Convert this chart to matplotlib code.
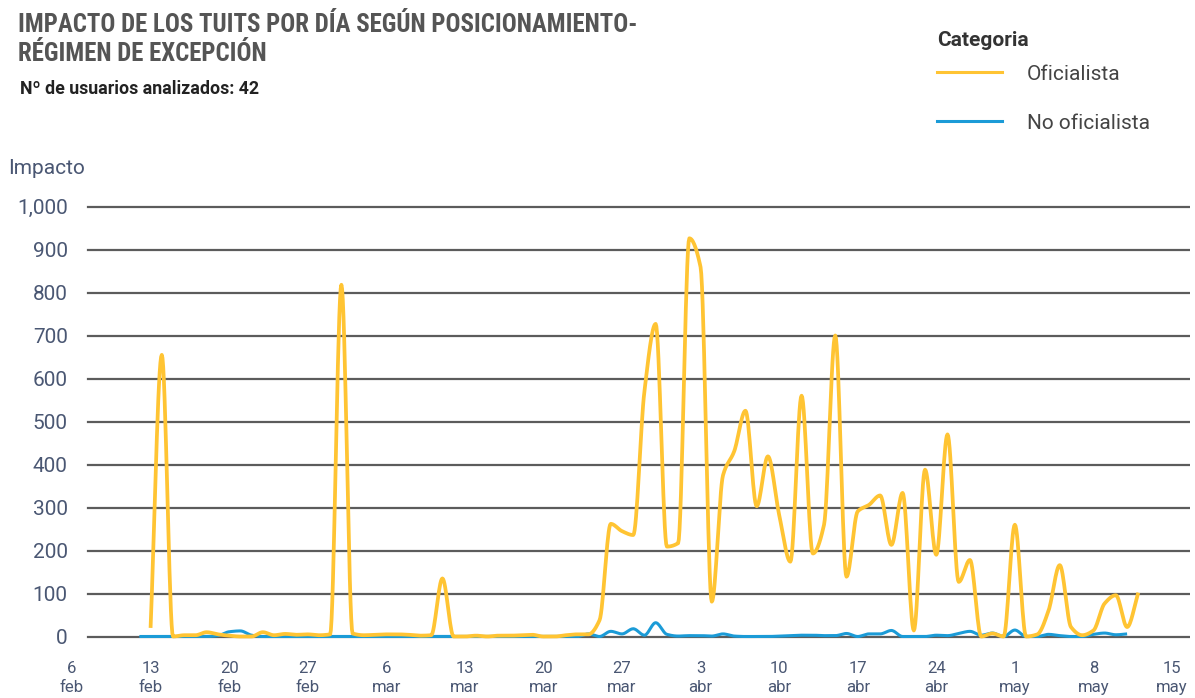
import numpy as np
import pandas as pd
import matplotlib
matplotlib.use("Agg")
import matplotlib.pyplot as plt
import matplotlib.dates as mdates
from matplotlib.lines import Line2D

# ---------------- data ----------------
oficialista_start = "2022-02-13"
oficialista = [20, 655, 0, 3, 3, 10, 5, 2, 0, 0, 10, 3, 6, 4, 5, 3, 5, 818, 7, 3,
               4, 5, 5, 4, 2, 3, 135, 0, 0, 2, 0, 2, 2, 3, 4, 0, 0, 3, 5, 5,
               38, 262, 245, 236, 571, 727, 209, 217, 926, 859, 81, 375, 431, 525, 303, 419, 283, 174, 560, 193,
               260, 700, 139, 291, 306, 328, 213, 334, 14, 388, 190, 470, 127, 178, 0, 7, 0, 260, 0, 5,
               60, 166, 22, 3, 14, 77, 96, 22, 102]
no_oficialista_start = "2022-02-12"
no_oficialista = [0, 0, 0, 0, 0, 0, 0, 2, 11, 13, 3, 0] + [0] * 28 + \
                 [6, 0, 12, 6, 18, 3, 32, 5, 1, 2, 2, 1, 6, 1, 0, 0, 0, 1, 2, 3,
                  3, 2, 2, 7, 0, 6, 6, 14, 0, 0, 0, 3, 2, 7, 12, 3, 8, 0, 15, 0,
                  0, 5, 2, 0, 0, 5, 8, 4, 6]
tick_dates = pd.date_range("2022-02-06", "2022-05-15", freq="7D")
month_es = {2: "feb", 3: "mar", 4: "abr", 5: "may"}
y_ticks = list(range(0, 1001, 100))

series_names = ["Oficialista", "No oficialista"]
colors = ["#FFC433", "#1B9BD7"]

# ---------------- helpers ----------------
def monotone_curve(x, y, n=16):
    x = np.asarray(x, float)
    y = np.asarray(y, float)
    h = np.diff(x)
    d = np.diff(y) / h
    m = np.zeros_like(y)
    m[0], m[-1] = d[0], d[-1]
    for k in range(1, len(y) - 1):
        if d[k - 1] * d[k] <= 0:
            m[k] = 0.0
        else:
            w1 = 2 * h[k] + h[k - 1]
            w2 = h[k] + 2 * h[k - 1]
            m[k] = (w1 + w2) / (w1 / d[k - 1] + w2 / d[k])
    xs, ys = [], []
    for k in range(len(h)):
        t = np.linspace(0, 1, n, endpoint=False)
        h00 = 2 * t**3 - 3 * t**2 + 1
        h10 = t**3 - 2 * t**2 + t
        h01 = -2 * t**3 + 3 * t**2
        h11 = t**3 - t**2
        xs.append(x[k] + t * h[k])
        ys.append(h00 * y[k] + h10 * h[k] * m[k] + h01 * y[k + 1] + h11 * h[k] * m[k + 1])
    xs.append([x[-1]])
    ys.append([y[-1]])
    return np.concatenate(xs), np.concatenate(ys)

# ---------------- figure ----------------
W, H = 1195, 698
fig = plt.figure(figsize=(W / 100, H / 100), dpi=100)
plt.rcParams["font.family"] = ["Roboto", "DejaVu Sans"]

ax_l, ax_r, ax_t, ax_b = 60, 1190, 200, 648
ax = fig.add_axes([ax_l / W, 1 - ax_b / H, (ax_r - ax_l) / W, (ax_b - ax_t) / H])

base = mdates.date2num(pd.Timestamp("2022-02-06"))
px_per_day = 1100 / 98
ax.set_xlim(base - (72 - ax_l) / px_per_day, base + (ax_r - 72) / px_per_day)
px_per_unit = 0.430
zero_px = 636.5
ax.set_ylim(-(ax_b - zero_px) / px_per_unit, (zero_px - ax_t) / px_per_unit)

for s in ax.spines.values():
    s.set_visible(False)

grid_start = (88 - ax_l) / (ax_r - ax_l)
for v in y_ticks:
    ax.axhline(v, xmin=grid_start, xmax=1, color="#5c5c5c", lw=1.6, zorder=1)

def plot_series(start, values, color, lw):
    dates = pd.date_range(start, periods=len(values), freq="D")
    xn = mdates.date2num(dates)
    xs, ys = monotone_curve(xn, values)
    ax.plot(xs, ys, color=color, lw=lw, solid_capstyle="butt", zorder=3)

plot_series(no_oficialista_start, no_oficialista, colors[1], 2.2)
plot_series(oficialista_start, oficialista, colors[0], 2.7)

tick_color = "#4a5773"
ax.set_yticks(y_ticks)
ax.set_yticklabels([f"{v:,}" for v in y_ticks], fontsize=15, color=tick_color)
ax.tick_params(axis="y", length=0, pad=-5.5)
for lab in ax.get_yticklabels():
    lab.set_horizontalalignment("right")

ax.set_xticks(mdates.date2num(tick_dates))
ax.set_xticklabels([f"{d.day}\n{month_es[d.month]}" for d in tick_dates],
                   fontsize=12, color=tick_color, linespacing=1.3)
ax.tick_params(axis="x", length=0, pad=9.5)

# ---------------- texts ----------------
title_kw = dict(fontsize=17.9, fontweight="bold", color="#555555", fontstretch="condensed",
                family=["Roboto Condensed", "Roboto"])
fig.text(18 / W, 1 - 31.5 / H, "IMPACTO DE LOS TUITS POR DÍA SEGÚN POSICIONAMIENTO-",
         va="baseline", ha="left", **title_kw)
fig.text(18 / W, 1 - 61 / H, "RÉGIMEN DE EXCEPCIÓN", va="baseline", ha="left", **title_kw)
fig.text(20 / W, 1 - 94.5 / H, "Nº de usuarios analizados: 42", va="baseline", ha="left",
         fontsize=12.8, fontweight="bold", color="#222222")
fig.text(8 / W, 1 - 174 / H, "Impacto", va="baseline", ha="left", fontsize=15, color=tick_color)

fig.text(937 / W, 1 - 46 / H, "Categoria", va="baseline", ha="left",
         fontsize=15, fontweight="bold", color="#333333")
handles = [Line2D([], [], color=c, lw=2.2) for c in colors]
fig.legend(handles, series_names, loc="upper left", bbox_to_anchor=(937 / W, 1 - 64.5 / H),
           frameon=False, fontsize=15, labelcolor="#444444", borderpad=0, borderaxespad=0,
           handlelength=3.1, handletextpad=1.2, labelspacing=1.45)

fig.savefig("out.png", dpi=100)
